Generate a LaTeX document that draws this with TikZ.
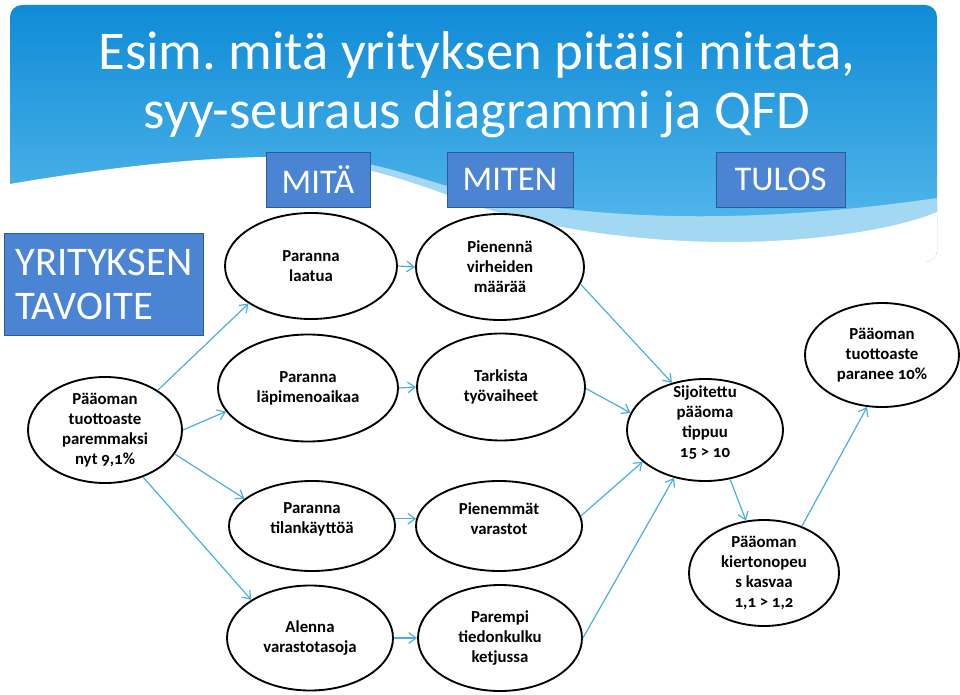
\documentclass[tikz,border=0pt]{standalone}
\usepackage{fontspec}
\setmainfont{Carlito}
\newfontfamily\ellfam[Numbers=OldStyle]{Carlito}
\usetikzlibrary{shapes.geometric,arrows.meta}
\definecolor{bgtop}{HTML}{0F8BD6}
\definecolor{bgbot}{HTML}{5DBDEE}
\definecolor{bgband}{HTML}{A3D8F3}
\definecolor{hdrblue}{HTML}{4A84D2}
\definecolor{hdrborder}{HTML}{2E5B97}
\definecolor{arrowblue}{HTML}{4BAFDD}
\tikzset{
  ell/.style={ellipse, draw=black, line width=1.4pt, fill=white, inner sep=0pt},
  esz/.style 2 args={minimum width=#1*0.75pt, minimum height=#2*0.75pt},
  etxt/.style={font=\ellfam\bfseries\fontsize{12.6}{15}\selectfont, align=center, text=black},
  arr/.style={draw=arrowblue, line width=0.9pt, -{Straight Barb[length=5.5pt,width=8pt]}},
  hdr/.style={draw=hdrborder, fill=hdrblue, line width=0.7pt, text=white, inner sep=0pt,
    font=\fontsize{26}{30}\selectfont},
  ttl/.style={text=white, font=\fontsize{41}{50}\selectfont, anchor=base, inner sep=0pt},
}
\frenchspacing
\begin{document}
\begin{tikzpicture}[x=0.75pt,y=-0.75pt]
\useasboundingbox (0,0) rectangle (960,695);
% background
\begin{scope}
  \clip[rounded corners=9pt] (10,5) rectangle (937,262);
  \shade[top color=bgtop, bottom color=bgbot] (10,5) rectangle (937,262);
  \fill[bgband] (330,158) .. controls (400,165) and (440,190) .. (520,203)
     .. controls (620,218) and (750,225) .. (937,198) -- (937,262) -- (330,262) -- cycle;
  \fill[white] (10,184) .. controls (80,172) and (180,158) .. (267,157)
     .. controls (350,157) and (420,185) .. (480,207)
     .. controls (560,232) and (650,242) .. (730,242)
     .. controls (820,242) and (900,228) .. (937,212) -- (937,262) -- (10,262) -- cycle;
\end{scope}
% title
\node[ttl] (t1) at (477,70) {Esim. mitä yrityksen pitäisi mitata,};
\node[ttl] (t2) at (477,129) {syy-seuraus diagrammi ja QFD};
% header boxes
\node[hdr, minimum width=104*0.75pt, minimum height=55*0.75pt] (mita) at (318,179.5) {MITÄ};
\node[hdr, minimum width=126*0.75pt, minimum height=55*0.75pt] (miten) at (510,179.5) {MITEN};
\node[hdr, minimum width=129*0.75pt, minimum height=55*0.75pt] (tulos) at (780.5,179.5) {TULOS};
\node[hdr, minimum width=199*0.75pt, minimum height=102*0.75pt,
  label={[anchor=west, xshift=7*0.75pt, text=white, align=left, font=\fontsize{30.5}{33}\selectfont]west:{YRITYKSEN\\TAVOITE}}] (tav) at (103.5,284) {};
% ellipses
\node[ell, esz={154}{106}, label={[etxt]center:{Pääoman\\tuottoaste\\paremmaksi\\nyt 9,1\%}}] (p1) at (105,430) {};
\node[ell, esz={172}{106}, label={[etxt]center:{Paranna\\laatua}}] (laatua) at (311,266) {};
\node[ell, esz={180}{107}, label={[etxt]center:{Paranna\\läpimenoaikaa}}] (lapi) at (308,388) {};
\node[ell, esz={166}{90}, label={[etxt, yshift=7*0.75pt]center:{Paranna\\tilankäyttöä}}] (tila) at (312,526) {};
\node[ell, esz={166}{105}, label={[etxt]center:{Alenna\\varastotasoja}}] (alenna) at (310,638) {};
\node[ell, esz={168}{106}, label={[etxt]center:{Pienennä\\virheiden\\määrää}}] (virhe) at (500,267) {};
\node[ell, esz={168}{107}, label={[etxt]center:{Tarkista\\työvaiheet}}] (tark) at (501,387) {};
\node[ell, esz={166}{90}, label={[etxt, yshift=7*0.75pt]center:{Pienemmät\\varastot}}] (pien) at (499,526) {};
\node[ell, esz={164}{106}, label={[etxt]center:{Parempi\\tiedonkulku\\ketjussa}}] (parempi) at (500,638) {};
\node[ell, esz={156}{102}, label={[etxt, yshift=7*0.75pt]center:{Sijoitettu\\pääoma\\tippuu\\15 > 10}}] (sij) at (705,430) {};
\node[ell, esz={154}{104}, label={[etxt]center:{Pääoman\\tuottoaste\\paranee 10\%}}] (paranee) at (882,355) {};
\node[ell, esz={150}{106}, label={[etxt]center:{Pääoman\\kiertonopeu\\s kasvaa\\1,1 > 1,2}}] (kierto) at (764,573) {};
% arrows
\draw[arr] (p1.37) -- (laatua.211);
\draw[arr] (p1.0) -- (lapi.196);
\draw[arr] (p1.341) -- (tila.158);
\draw[arr] (p1.309) -- (alenna.147);
\draw[arr] (laatua.0) -- (virhe.180);
\draw[arr] (lapi.0) -- (tark.180);
\draw[arr] (tila.5) -- (pien.175);
\draw[arr] (alenna.0) -- (parempi.180);
\draw[arr] (virhe.348) -- (sij.125);
\draw[arr] (tark.359) -- (sij.167);
\draw[arr] (pien.7) -- (sij.207);
\draw[arr] (parempi.0) -- (sij.237);
\draw[arr] (sij.297) -- (kierto.109);
\draw[arr] (kierto.51) -- (paranee.254);
\end{tikzpicture}
\end{document}
